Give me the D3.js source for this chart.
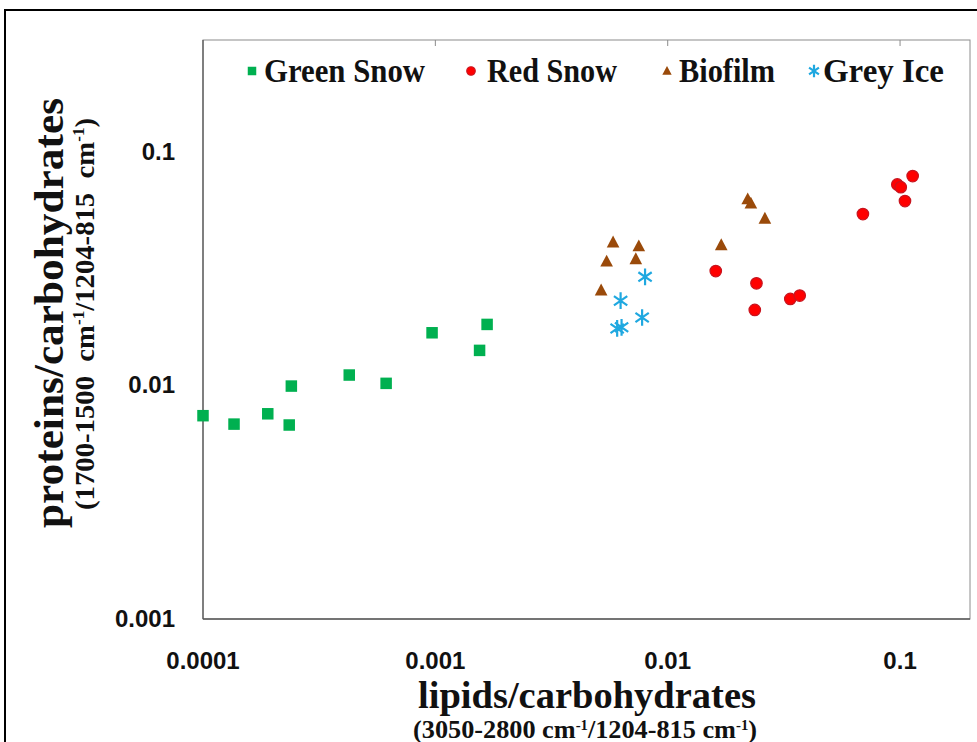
<!DOCTYPE html>
<html><head><meta charset="utf-8">
<script src="https://cdn.jsdelivr.net/npm/d3@7"></script>
<style>html,body{margin:0;padding:0;background:#fff;}svg{display:block;}
.serif{font-family:"Liberation Serif","Times New Roman",serif;font-weight:bold;fill:#111;}
.sans{font-family:"Liberation Sans",Arial,sans-serif;font-weight:bold;fill:#111;}
</style>
</head><body>
<svg id="chart" width="977" height="742"></svg>
<script>
// ---- data ----
const seriesNames = ["Green Snow", "Red Snow", "Biofilm", "Grey Ice"];
const greenSnowX = [0.0001, 0.000136, 0.000190, 0.000235, 0.000240, 0.000426, 0.000614, 0.000968, 0.00155, 0.00167];
const greenSnowY = [0.00741, 0.00682, 0.00755, 0.00676, 0.00992, 0.01106, 0.01019, 0.01677, 0.01410, 0.01821];
const redSnowX = [0.0161, 0.0241, 0.0237, 0.0337, 0.0370, 0.0692, 0.0973, 0.1007, 0.105, 0.1133];
const redSnowY = [0.0308, 0.0273, 0.0210, 0.0234, 0.0242, 0.0540, 0.0723, 0.0704, 0.0614, 0.0785];
const biofilmX = [0.0221, 0.0228, 0.0262, 0.00582, 0.00751, 0.00546, 0.00729, 0.00517, 0.0170];
const biofilmY = [0.0626, 0.0600, 0.0517, 0.0409, 0.0394, 0.0339, 0.0347, 0.0255, 0.0398];
const greyIceX = [0.00799, 0.00627, 0.00776, 0.00606, 0.00633];
const greyIceY = [0.0291, 0.0230, 0.0195, 0.0175, 0.0177];
const xTicks = [0.0001, 0.001, 0.01, 0.1];
const yTicks = [0.001, 0.01, 0.1];
const xTickLabels = ["0.0001", "0.001", "0.01", "0.1"];
const yTickLabels = ["0.001", "0.01", "0.1"];
const xDomain = [0.0001, 0.2];
const yDomain = [0.001, 0.3];

const colors = {"Green Snow": "#00b050", "Red Snow": "#ff0000", "Biofilm": "#9a4a0a", "Grey Ice": "#1fa8e0"};
const strokes = {"Green Snow": "#00a048", "Red Snow": "#c8141e", "Biofilm": "#8a4008", "Grey Ice": "#1fa8e0"};

const svg = d3.select("#chart");
const L = 203, R = 970, T = 40, B = 619;
const x = d3.scaleLog().domain(xDomain).range([L, R]);
const y = d3.scaleLog().domain(yDomain).range([B, T]);

// outer border
svg.append("path").attr("d", `M5,742 V10 H977`).attr("fill", "none").attr("stroke", "#000").attr("stroke-width", 2);

// plot frame
svg.append("rect").attr("x", L).attr("y", T).attr("width", R - L).attr("height", B - T)
  .attr("fill", "none").attr("stroke", "#8c8c8c").attr("stroke-width", 1);
svg.append("line").attr("x1", L).attr("x2", L).attr("y1", T).attr("y2", B).attr("stroke", "#595959").attr("stroke-width", 1.3);
svg.append("line").attr("x1", L).attr("x2", R).attr("y1", B).attr("y2", B).attr("stroke", "#595959").attr("stroke-width", 1.3);

// top ticks
svg.selectAll(".ttick").data(xTicks.slice(1)).join("line")
  .attr("x1", d => x(d)).attr("x2", d => x(d)).attr("y1", T).attr("y2", T + 6)
  .attr("stroke", "#8c8c8c").attr("stroke-width", 1);

// tick labels
svg.selectAll(".xl").data(xTicks).join("text").attr("class", "sans")
  .attr("x", d => x(d)).attr("y", 669).attr("text-anchor", "middle")
  .style("font-size", "24px")
  .text((d, i) => xTickLabels[i]);
svg.selectAll(".yl").data(yTicks).join("text").attr("class", "sans")
  .attr("x", 175).attr("y", d => y(d) + 8).attr("text-anchor", "end")
  .style("font-size", "24px")
  .text((d, i) => yTickLabels[i]);

// marker symbols
const asteriskPath = s => {
  const r = s / 2, dx = r * 0.8, dy = r * 0.55;
  return `M0,${-r}V${r}M${-dx},${-dy}L${dx},${dy}M${-dx},${dy}L${dx},${-dy}`;
};
function marker(g, name, size) {
  if (name === "Green Snow") {
    g.append("rect").attr("x", -size / 2).attr("y", -size / 2).attr("width", size).attr("height", size)
      .attr("fill", colors[name]);
  } else if (name === "Red Snow") {
    g.append("circle").attr("r", size / 2).attr("fill", colors[name]).attr("stroke", strokes[name]).attr("stroke-width", 1.2);
  } else if (name === "Biofilm") {
    const h = size;
    g.append("path").attr("d", `M0,${-h * 0.58}L${h * 0.55},${h * 0.45}L${-h * 0.55},${h * 0.45}Z`).attr("fill", colors[name]);
  } else {
    g.append("path").attr("d", asteriskPath(size * 1.45)).attr("fill", "none").attr("stroke", colors[name]).attr("stroke-width", 2.2);
  }
}

const series = [
  {name: "Green Snow", xs: greenSnowX, ys: greenSnowY},
  {name: "Red Snow", xs: redSnowX, ys: redSnowY},
  {name: "Biofilm", xs: biofilmX, ys: biofilmY},
  {name: "Grey Ice", xs: greyIceX, ys: greyIceY}
];
series.forEach(s => {
  s.xs.forEach((xv, i) => {
    const g = svg.append("g").attr("transform", `translate(${x(xv)},${y(s.ys[i])})`);
    marker(g, s.name, 11.5);
  });
});

// legend
const legendItems = [
  {name: seriesNames[0], mx: 252, tx: 264, w: 161},
  {name: seriesNames[1], mx: 471, tx: 487, w: 130},
  {name: seriesNames[2], mx: 667, tx: 679, w: 96},
  {name: seriesNames[3], mx: 814, tx: 823, w: 121}
];
legendItems.forEach(it => {
  const g = svg.append("g").attr("transform", `translate(${it.mx},71)`);
  marker(g, it.name, 8.5);
  svg.append("text").attr("class", "serif").attr("x", it.tx).attr("y", 82)
    .style("font-size", "33px")
    .attr("textLength", it.w).attr("lengthAdjust", "spacingAndGlyphs")
    .text(it.name);
});

// axis titles
function supText(t, parts, sup, shift) {
  parts.forEach(p => {
    if (p.sup) t.append("tspan").style("font-size", sup + "px").attr("dy", -shift).text(p.s);
    else t.append("tspan").attr("dy", p.back ? shift : 0).text(p.s);
  });
}
svg.append("text").attr("class", "serif").attr("x", 587).attr("y", 708).attr("text-anchor", "middle")
  .style("font-size", "38px")
  .attr("textLength", 338).attr("lengthAdjust", "spacingAndGlyphs")
  .text("lipids/carbohydrates");
const xs = svg.append("text").attr("class", "serif").attr("x", 585).attr("y", 738).attr("text-anchor", "middle")
  .style("font-size", "25px")
  .attr("textLength", 344).attr("lengthAdjust", "spacingAndGlyphs");
supText(xs, [{s: "(3050-2800 cm"}, {s: "-1", sup: 1}, {s: "/1204-815 cm", back: 1}, {s: "-1", sup: 1}, {s: ")", back: 1}], 14, 8);

const yt = svg.append("g").attr("transform", "translate(63,313) rotate(-90)");
yt.append("text").attr("class", "serif").attr("x", 0).attr("y", 0).attr("text-anchor", "middle")
  .style("font-size", "43px")
  .attr("textLength", 430).attr("lengthAdjust", "spacingAndGlyphs")
  .text("proteins/carbohydrates");
const ys = svg.append("g").attr("transform", "translate(94,314) rotate(-90)").append("text")
  .attr("class", "serif").attr("text-anchor", "middle")
  .style("font-size", "27px").style("white-space", "pre")
  .attr("textLength", 392).attr("lengthAdjust", "spacingAndGlyphs");
supText(ys, [{s: "(1700-1500  cm"}, {s: "-1", sup: 1}, {s: "/1204-815  cm", back: 1}, {s: "-1", sup: 1}, {s: ")", back: 1}], 16, 10);
</script>
</body></html>
